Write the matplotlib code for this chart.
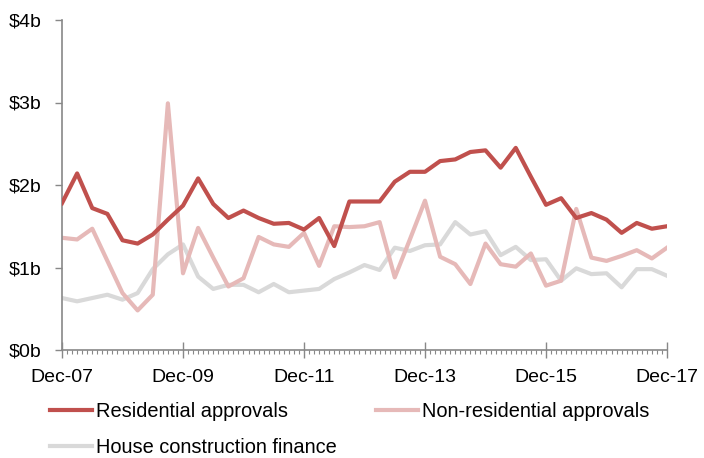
import numpy as np
import matplotlib.pyplot as plt
import matplotlib as mpl
from matplotlib.ticker import MultipleLocator

mpl.rcParams['font.family'] = ['Liberation Sans', 'DejaVu Sans']

# quarterly, Dec-07 .. Dec-17 ($b)
residential = [1.78, 2.14, 1.72, 1.65, 1.33, 1.29, 1.40, 1.58, 1.75, 2.08,
               1.77, 1.60, 1.69, 1.60, 1.53, 1.54, 1.46, 1.60, 1.26, 1.80,
               1.80, 1.80, 2.04, 2.16, 2.16, 2.29, 2.31, 2.40, 2.42, 2.21,
               2.45, 2.10, 1.76, 1.84, 1.60, 1.66, 1.58, 1.42, 1.54, 1.47,
               1.50]
non_residential = [1.36, 1.34, 1.47, 1.08, 0.69, 0.48, 0.67, 2.99, 0.93, 1.48,
                   1.12, 0.77, 0.87, 1.37, 1.28, 1.25, 1.42, 1.02, 1.50, 1.49,
                   1.50, 1.55, 0.88, 1.34, 1.81, 1.13, 1.04, 0.80, 1.29, 1.04,
                   1.01, 1.17, 0.78, 0.84, 1.71, 1.12, 1.08, 1.14, 1.21, 1.11,
                   1.24]
house_finance = [0.63, 0.59, 0.63, 0.67, 0.61, 0.69, 0.98, 1.16, 1.28, 0.89,
                 0.74, 0.79, 0.79, 0.70, 0.80, 0.70, 0.72, 0.74, 0.86, 0.94,
                 1.03, 0.97, 1.24, 1.20, 1.27, 1.28, 1.55, 1.40, 1.44, 1.15,
                 1.25, 1.09, 1.10, 0.84, 0.99, 0.92, 0.93, 0.76, 0.98, 0.98,
                 0.90]
tick_labels = ['Dec-07', 'Dec-09', 'Dec-11', 'Dec-13', 'Dec-15', 'Dec-17']
y_labels = ['$0b', '$1b', '$2b', '$3b', '$4b']

x = np.arange(len(residential))

fig = plt.figure(figsize=(7.04, 4.58), dpi=100)
ax = fig.add_axes([62/704, 1-350/458, 605/704, 330/458])

l1, = ax.plot(x, residential, color='#C0504D', lw=3, label='Residential approvals', zorder=3)
l2, = ax.plot(x, non_residential, color='#E6B9B8', lw=3, label='Non-residential approvals', zorder=2)
l3, = ax.plot(x, house_finance, color='#D9D9D9', lw=3, label='House construction finance', zorder=1)

ax.set_xlim(0, 40)
ax.set_ylim(0, 4)
ax.set_xticks(np.arange(0, 41, 8))
ax.set_xticklabels(tick_labels, fontsize=14)
ax.xaxis.set_minor_locator(MultipleLocator(1/3))
ax.set_yticks(range(5))
ax.set_yticklabels(y_labels, fontsize=14)

for s in ['top', 'right']:
    ax.spines[s].set_visible(False)
for s in ['left', 'bottom']:
    ax.spines[s].set_color('#888888')
    ax.spines[s].set_linewidth(1.2)
ax.tick_params(axis='x', which='major', direction='inout', length=12, color='#888888', width=1, pad=8)
ax.tick_params(axis='x', which='minor', direction='out', length=3, color='#888888', width=0.8)
ax.tick_params(axis='y', direction='out', length=5, color='#888888', width=1, pad=10)

# column-major fill: Residential / House in col 1, Non-residential in col 2
fig.legend([l1, l3, l2], [l1.get_label(), l3.get_label(), l2.get_label()],
           loc='upper left', bbox_to_anchor=(50/704, 1-402/458), ncol=2, frameon=False,
           fontsize=14.4, handlelength=2.1, handletextpad=0.2, columnspacing=1.95,
           labelspacing=0.85, borderpad=0, borderaxespad=0)

fig.savefig('out.png', dpi=100)
